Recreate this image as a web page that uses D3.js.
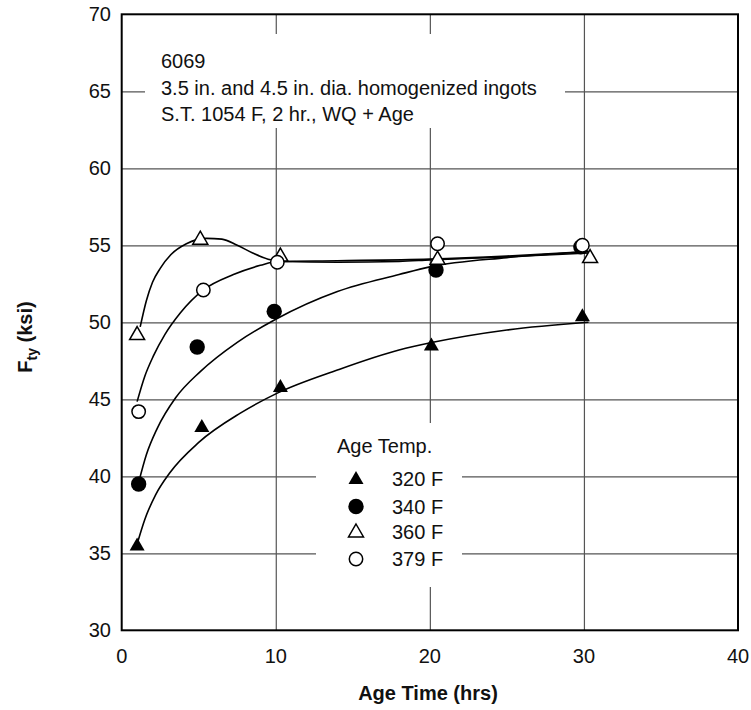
<!DOCTYPE html>
<html>
<head>
<meta charset="utf-8">
<script src="https://cdn.jsdelivr.net/npm/d3@7"></script>
<style>
	body { margin: 0; background: #fff; }
	.text { font-family: 'Liberation Sans', Arial, sans-serif; font-size: 20px; fill: #111; }
	.bold { font-weight: bold; }
	.grid { stroke: #555; stroke-width: 1.2; }
	.fit { fill: none; stroke: #000; stroke-width: 1.6; }
</style>
</head>
<body>
<svg id="chart" width="751" height="710"></svg>
<script>
// tick values
const xTicks = [0, 10, 20, 30, 40];
const yTicks = [30, 35, 40, 45, 50, 55, 60, 65, 70];

// note text
const noteLines = [
	'6069',
	'3.5 in. and 4.5 in. dia. homogenized ingots',
	'S.T. 1054 F, 2 hr., WQ + Age',
];

// age temperatures (legend)
const legendTitle = 'Age Temp.';
const temps = ['320 F', '340 F', '360 F', '379 F'];

// measured points [hrs, ksi]
const pts320 = [[1.0, 35.5], [5.2, 43.2], [10.3, 45.8], [20.1, 48.5], [29.9, 50.4]];
const pts340 = [[1.1, 39.5], [4.9, 48.4], [9.9, 50.7], [20.4, 53.4], [29.8, 54.9]];
const pts360 = [[1.0, 49.2], [5.1, 55.4], [10.3, 54.3], [20.5, 54.1], [30.4, 54.2]];
const pts379 = [[1.1, 44.2], [5.3, 52.1], [10.1, 53.9], [20.5, 55.1], [29.9, 55.0]];

// fitted curves
const fit320 = [[1.0, 35.6], [1.5, 37.2], [2.2, 38.8], [3.1, 40.2], [5.0, 42.2], [7.7, 44.1], [10.1, 45.4], [14, 46.9], [18, 48.2], [20.2, 48.7], [25, 49.5], [30.3, 50.0]];
const fit340 = [[1.1, 39.6], [1.6, 41.4], [2.3, 43.1], [3.5, 45.1], [5.1, 46.8], [7.5, 48.7], [10, 50.2], [14, 52.0], [18, 53.1], [20, 53.6], [25, 54.2], [30.3, 54.6]];
const fit360 = [[1.2, 49.7], [1.6, 51.4], [2.0, 52.6], [2.5, 53.5], [3.2, 54.4], [4.2, 55.1], [5.5, 55.45], [6.5, 55.4], [7.5, 55.0], [8.5, 54.5], [9.5, 54.1], [10.5, 53.95], [14, 53.9], [18, 53.95], [20, 54.05], [25, 54.25], [30.3, 54.5]];
const fit379 = [[1.0, 44.85], [1.5, 46.5], [2.05, 47.8], [2.8, 49.2], [3.8, 50.6], [5.3, 52.1], [7.25, 53.1], [9.0, 53.7], [10.1, 53.95], [14, 54.0], [20, 54.1], [25, 54.3], [30.3, 54.6]];

const svg = d3.select('#chart');

const x = d3.scaleLinear().domain([0, 40]).range([121.7, 738]);
const y = d3.scaleLinear().domain([30, 70]).range([630.3, 14.3]);

svg.append('rect').attr('width', 751).attr('height', 710).attr('fill', '#fff');

// grid
svg.append('g')
	.attr('transform', 'translate(0,' + y(30) + ')')
	.call(d3.axisBottom(x).tickValues(xTicks.slice(1, -1)).tickSize(-(y(30) - y(70))).tickFormat(''))
	.call(g => g.select('.domain').remove())
	.call(g => g.selectAll('line').attr('class', 'grid'));

svg.append('g')
	.attr('transform', 'translate(' + x(0) + ',0)')
	.call(d3.axisLeft(y).tickValues(yTicks.slice(1, -1)).tickSize(-(x(40) - x(0))).tickFormat(''))
	.call(g => g.select('.domain').remove())
	.call(g => g.selectAll('line').attr('class', 'grid'));

// white boxes behind the note and the legend
svg.append('rect').attr('x', 145).attr('y', 34).attr('width', 420).attr('height', 94).attr('fill', '#fff');
svg.append('rect').attr('x', 316).attr('y', 423).attr('width', 146).attr('height', 164).attr('fill', '#fff');

// frame
svg.append('rect')
	.attr('x', x(0)).attr('y', y(70))
	.attr('width', x(40) - x(0)).attr('height', y(30) - y(70))
	.attr('fill', 'none').attr('stroke', '#000').attr('stroke-width', 2);

// tick labels
xTicks.forEach((t) => {
	svg.append('text').attr('class', 'text')
		.attr('x', x(t)).attr('y', 663)
		.attr('text-anchor', 'middle')
		.text(t);
});
yTicks.forEach((t) => {
	svg.append('text').attr('class', 'text')
		.attr('x', 111).attr('y', y(t) + 7)
		.attr('text-anchor', 'end')
		.text(t);
});

// axis titles
svg.append('text').attr('class', 'text bold')
	.attr('x', 428).attr('y', 700)
	.attr('text-anchor', 'middle')
	.text('Age Time (hrs)');

const yTitle = svg.append('text').attr('class', 'text bold')
	.attr('transform', 'translate(32,337) rotate(-90)')
	.attr('text-anchor', 'middle');
yTitle.append('tspan').text('F');
yTitle.append('tspan').attr('dy', 5).style('font-size', '14px').text('ty');
yTitle.append('tspan').attr('dy', -5).text(' (ksi)');

// note
noteLines.forEach((s, i) => {
	svg.append('text').attr('class', 'text')
		.attr('x', 161).attr('y', 68 + i * 26.5)
		.text(s);
});

// fitted curves
const line = d3.line()
	.x(d => x(d[0]))
	.y(d => y(d[1]))
	.curve(d3.curveMonotoneX);

[fit320, fit340, fit360, fit379].forEach((f) => {
	svg.append('path').attr('class', 'fit').attr('d', line(f));
});

// markers
function triangle(cx, cy) {
	return 'M' + cx + ',' + (cy - 8) + 'L' + (cx + 7.5) + ',' + (cy + 5) + 'L' + (cx - 7.5) + ',' + (cy + 5) + 'Z';
}

function drawMarker(g, kind, cx, cy) {
	if (kind === 0) {
		g.append('path').attr('d', triangle(cx, cy)).attr('fill', '#000');
	} else if (kind === 1) {
		g.append('circle').attr('cx', cx).attr('cy', cy).attr('r', 7.7).attr('fill', '#000');
	} else if (kind === 2) {
		g.append('path').attr('d', triangle(cx, cy)).attr('fill', '#fff').attr('stroke', '#000').attr('stroke-width', 1.5);
	} else {
		g.append('circle').attr('cx', cx).attr('cy', cy).attr('r', 6.7).attr('fill', '#fff').attr('stroke', '#000').attr('stroke-width', 1.5);
	}
}

const marks = svg.append('g');
[pts320, pts340, pts360, pts379].forEach((set, k) => {
	set.forEach((p) => drawMarker(marks, k, x(p[0]), y(p[1])));
});

// legend
svg.append('text').attr('class', 'text')
	.attr('x', 337).attr('y', 453)
	.text(legendTitle);

const legendY = [479, 506.5, 532, 559];
temps.forEach((t, i) => {
	drawMarker(svg, i, 356, legendY[i]);
	svg.append('text').attr('class', 'text')
		.attr('x', 392).attr('y', legendY[i] + 7)
		.text(t);
});
</script>
</body>
</html>
